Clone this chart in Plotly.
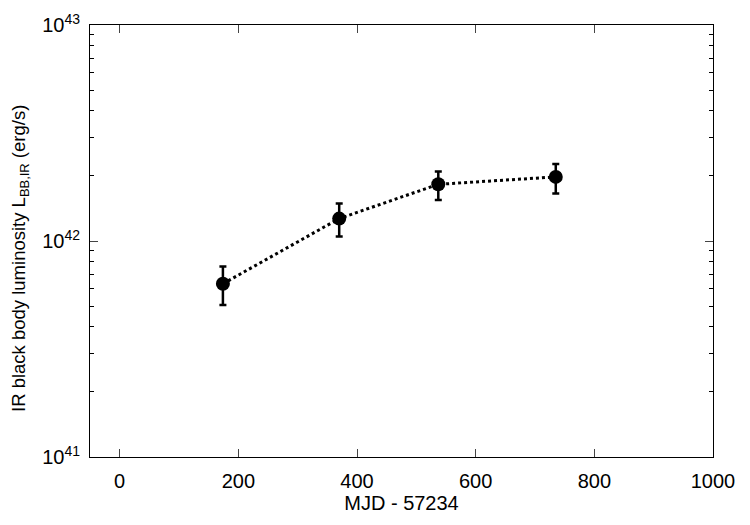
import plotly.graph_objects as go

mjd = [174, 370, 537, 735]
lum = [6.34e41, 1.27e42, 1.83e42, 1.98e42]
lum_hi = [7.62e41, 1.49e42, 2.10e42, 2.27e42]
lum_lo = [5.06e41, 1.05e42, 1.55e42, 1.66e42]

x_ticks = [0, 200, 400, 600, 800, 1000]
y_ticks = [1e41, 1e42, 1e43]
y_exps = ["41", "42", "43"]
y_ticktext = ["10<sup>%s</sup>" % e for e in y_exps]
y_minor = [float(m) * 10.0**e for e in (41, 42) for m in range(2, 10)]

err_plus = [h - v for h, v in zip(lum_hi, lum)]
err_minus = [v - l for v, l in zip(lum, lum_lo)]

fig = go.Figure()
fig.add_trace(go.Scatter(
    x=mjd, y=lum, mode="lines+markers",
    line=dict(color="black", width=3, dash="dot"),
    marker=dict(color="black", size=14),
    error_y=dict(type="data", symmetric=False, array=err_plus, arrayminus=err_minus,
                 color="black", thickness=2.5, width=3.5),
    showlegend=False,
))

font = dict(family="Liberation Sans, Arial, sans-serif", size=20, color="black")
fig.update_layout(
    width=750, height=525,
    margin=dict(l=90, r=37, t=25, b=68),
    plot_bgcolor="white", paper_bgcolor="white",
    font=font,
    xaxis=dict(range=[-50, 1000], tickvals=x_ticks, ticks="inside", ticklen=8,
               tickfont=dict(size=20), ticklabelstandoff=6,
               showline=True, linecolor="black", linewidth=1, mirror="ticks",
               showgrid=False, zeroline=False,
               title=dict(text="MJD - 57234", standoff=4, font=dict(size=20))),
    yaxis=dict(type="log", range=[41, 43], tickvals=y_ticks, ticktext=y_ticktext,
               tickfont=dict(size=20), ticklabelstandoff=5,
               ticks="inside", ticklen=8, showline=True, linecolor="black", linewidth=1,
               mirror="ticks", showgrid=False, zeroline=False,
               minor=dict(tickvals=y_minor, ticks="inside", ticklen=4, tickcolor="black", showgrid=False)),
    annotations=[dict(
        text="IR black body luminosity L<sub>BB,IR</sub> (erg/s)",
        xref="paper", yref="paper", x=0, y=0.5, xanchor="center", yanchor="middle",
        xshift=-70, yshift=-18, textangle=-90, showarrow=False,
        font=dict(size=18.5, color="black"))],
)
fig.write_html("out.html")
